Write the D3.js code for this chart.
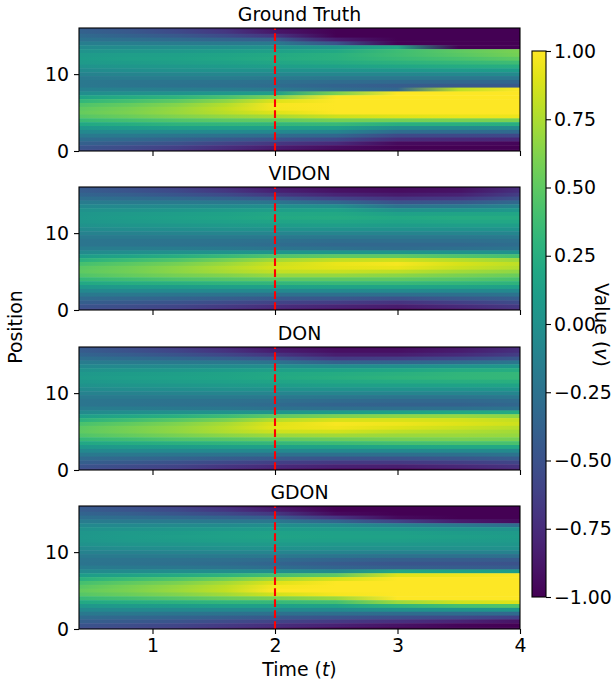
<!DOCTYPE html>
<html>
<head>
<meta charset="utf-8">
<script src="https://cdn.jsdelivr.net/npm/d3@7"></script>
<style>
  html, body { margin: 0; padding: 0; background: #fff; }
  text { font-family: "DejaVu Sans", sans-serif; fill: #000; }
</style>
</head>
<body>
<div id="chart"></div>
<script>
// time of each column in the value tables below
const times = [0.4, 0.8, 1.2, 1.6, 2, 2.5, 3, 3.5, 4];
// position of each value inside a column, top of the panel first
const positions = d3.range(16, -0.5, -0.5);
const titles = ['Ground Truth', 'VIDON', 'DON', 'GDON'];
const xTicks = [1, 2, 3, 4];
const yTicks = [0, 10];
const barTicks = [-1, -0.75, -0.5, -0.25, 0, 0.25, 0.5, 0.75, 1];
const splitTime = 2;

// values, one line per time
const truthValues = [
  [-.42,-.38,-.32,-.25,-.15,-.05,.03,.08,.1,.08,.03,-.05,-.12,-.18,-.2,-.2,-.13,-.02,.16,.32,.44,.5,.53,.47,.35,.2,.06,-.07,-.18,-.29,-.39,-.47,-.52],
  [-.5,-.45,-.38,-.28,-.15,-.04,.05,.11,.13,.1,.05,-.02,-.1,-.17,-.22,-.22,-.14,0,.22,.4,.52,.58,.6,.54,.4,.24,.09,-.05,-.19,-.32,-.44,-.54,-.6],
  [-.6,-.55,-.45,-.32,-.17,-.03,.07,.13,.15,.12,.07,0,-.09,-.17,-.23,-.25,-.16,.03,.3,.5,.63,.68,.69,.62,.46,.29,.12,-.05,-.22,-.37,-.5,-.62,-.7],
  [-.75,-.68,-.55,-.37,-.18,-.02,.1,.17,.18,.15,.09,.01,-.08,-.17,-.25,-.27,-.17,.07,.42,.66,.78,.82,.79,.68,.5,.31,.13,-.06,-.26,-.44,-.6,-.74,-.82],
  [-.95,-.88,-.7,-.42,-.18,0,.13,.21,.22,.18,.11,.02,-.08,-.18,-.27,-.3,-.2,.12,.6,.9,.98,.97,.9,.74,.52,.32,.13,-.07,-.3,-.5,-.68,-.84,-.93],
  [-1,-1,-1,-.85,-.5,.05,.2,.27,.27,.22,.14,.03,-.08,-.2,-.3,-.36,-.3,.6,1,1,1,1,1,.85,.58,.34,.12,-.1,-.34,-.56,-.76,-.93,-1],
  [-1,-1,-1,-1,-1,.2,.37,.38,.35,.28,.18,.05,-.08,-.2,-.32,-.42,-.35,1,1,1,1,1,1,.9,.58,.26,-.03,-.3,-.55,-.75,-.95,-1,-1],
  [-1,-1,-1,-1,-1,-1,.5,.48,.42,.33,.22,.08,-.07,-.2,-.33,-.45,.8,1,1,1,1,1,1,.93,.6,.26,-.04,-.31,-.56,-.77,-.96,-1,-1],
  [-1,-1,-1,-1,-1,-1,.6,.58,.5,.38,.25,.1,-.05,-.2,-.35,-.45,1,1,1,1,1,1,1,.95,.6,.25,-.05,-.32,-.57,-.78,-.97,-1,-1]
];
const vidonValues = [
  [-.45,-.42,-.36,-.28,-.17,-.07,.01,.05,.06,.05,.01,-.05,-.12,-.18,-.22,-.22,-.16,-.05,.1,.27,.4,.48,.5,.45,.33,.2,.06,-.07,-.19,-.3,-.4,-.48,-.55],
  [-.52,-.48,-.4,-.3,-.18,-.06,.03,.08,.1,.08,.04,-.03,-.11,-.18,-.23,-.23,-.16,-.02,.17,.36,.49,.56,.57,.52,.39,.24,.08,-.06,-.2,-.33,-.44,-.53,-.6],
  [-.62,-.56,-.47,-.33,-.18,-.05,.05,.11,.13,.11,.06,-.02,-.1,-.18,-.24,-.25,-.17,0,.25,.45,.58,.65,.65,.58,.44,.27,.1,-.06,-.22,-.36,-.48,-.58,-.66],
  [-.75,-.68,-.55,-.38,-.2,-.04,.08,.15,.17,.14,.08,0,-.09,-.18,-.25,-.27,-.19,.03,.35,.58,.7,.76,.74,.62,.47,.3,.12,-.06,-.24,-.4,-.54,-.66,-.76],
  [-.88,-.82,-.68,-.46,-.22,-.02,.11,.19,.21,.17,.1,.01,-.09,-.19,-.27,-.3,-.22,.05,.45,.72,.84,.87,.82,.68,.5,.32,.14,-.06,-.26,-.44,-.6,-.74,-.85],
  [-.93,-.9,-.8,-.6,-.34,-.03,.14,.2,.22,.18,.11,.02,-.09,-.2,-.29,-.33,-.26,.05,.5,.82,.93,.92,.83,.68,.5,.34,.16,-.06,-.27,-.46,-.64,-.8,-.92],
  [-.95,-.93,-.86,-.7,-.5,-.25,0,.14,.2,.17,.1,.02,-.1,-.2,-.28,-.33,-.3,.05,.5,.85,.97,.93,.8,.65,.5,.34,.17,-.05,-.28,-.5,-.7,-.85,-.95],
  [-.92,-.9,-.82,-.66,-.46,-.2,.03,.17,.22,.19,.11,.02,-.09,-.2,-.28,-.33,-.27,.03,.45,.78,.88,.84,.72,.6,.47,.32,.16,-.06,-.27,-.45,-.62,-.76,-.88],
  [-.75,-.72,-.64,-.5,-.32,-.1,.07,.18,.22,.19,.11,.03,-.08,-.18,-.26,-.29,-.23,.02,.4,.7,.8,.76,.66,.54,.42,.29,.13,-.06,-.24,-.4,-.54,-.66,-.75]
];
const donValues = [
  [-.45,-.42,-.36,-.28,-.17,-.07,.02,.07,.08,.06,.02,-.05,-.12,-.18,-.22,-.22,-.16,-.05,.11,.28,.42,.49,.5,.45,.33,.19,.06,-.07,-.19,-.3,-.4,-.48,-.55],
  [-.54,-.5,-.42,-.31,-.18,-.06,.04,.1,.11,.09,.04,-.03,-.11,-.18,-.23,-.24,-.17,-.02,.19,.38,.51,.58,.58,.52,.39,.23,.08,-.06,-.2,-.33,-.44,-.54,-.62],
  [-.65,-.59,-.49,-.35,-.19,-.05,.06,.12,.14,.11,.06,-.02,-.1,-.18,-.25,-.26,-.19,0,.27,.48,.61,.67,.67,.59,.45,.27,.1,-.06,-.22,-.36,-.5,-.6,-.68],
  [-.78,-.71,-.58,-.4,-.2,-.04,.09,.16,.17,.14,.08,0,-.09,-.18,-.26,-.28,-.21,.03,.37,.6,.74,.78,.76,.65,.48,.3,.12,-.06,-.24,-.41,-.56,-.69,-.79],
  [-.9,-.84,-.7,-.48,-.24,-.03,.12,.2,.21,.17,.1,.01,-.09,-.19,-.28,-.32,-.25,.05,.5,.78,.9,.92,.85,.7,.52,.33,.14,-.06,-.26,-.44,-.62,-.76,-.88],
  [-.96,-.92,-.84,-.66,-.38,-.04,.15,.23,.25,.2,.12,.02,-.09,-.21,-.31,-.36,-.28,.1,.6,.88,.98,.96,.86,.72,.55,.36,.16,-.06,-.27,-.47,-.66,-.82,-.95],
  [-.95,-.92,-.84,-.64,-.36,-.02,.18,.27,.29,.23,.13,.03,-.09,-.22,-.33,-.38,-.28,.15,.65,.88,.95,.9,.8,.7,.58,.4,.18,-.06,-.28,-.48,-.66,-.83,-.96],
  [-.88,-.85,-.76,-.56,-.3,.03,.22,.31,.32,.25,.15,.03,-.09,-.22,-.33,-.38,-.27,.2,.68,.86,.9,.84,.76,.7,.6,.42,.2,-.05,-.27,-.46,-.63,-.78,-.9],
  [-.75,-.72,-.64,-.46,-.2,.06,.24,.33,.33,.26,.16,.04,-.08,-.2,-.3,-.34,-.24,.22,.65,.82,.85,.78,.72,.68,.58,.42,.2,-.05,-.24,-.42,-.58,-.7,-.8]
];
const gdonValues = [
  [-.45,-.42,-.36,-.28,-.17,-.07,.01,.05,.06,.05,.01,-.05,-.12,-.18,-.22,-.23,-.17,-.05,.1,.27,.4,.48,.52,.47,.35,.2,.06,-.07,-.19,-.3,-.4,-.48,-.55],
  [-.52,-.48,-.4,-.3,-.18,-.06,.03,.08,.09,.08,.04,-.03,-.11,-.18,-.24,-.25,-.19,-.04,.16,.36,.5,.58,.6,.54,.4,.24,.08,-.06,-.2,-.33,-.44,-.53,-.6],
  [-.62,-.56,-.47,-.33,-.18,-.05,.05,.1,.11,.1,.05,-.02,-.1,-.18,-.26,-.28,-.21,-.03,.22,.45,.6,.68,.7,.62,.47,.28,.1,-.06,-.22,-.36,-.48,-.58,-.66],
  [-.76,-.69,-.56,-.38,-.2,-.04,.07,.13,.14,.12,.07,0,-.09,-.19,-.28,-.31,-.24,-.03,.3,.57,.73,.8,.82,.72,.54,.32,.12,-.06,-.24,-.4,-.54,-.66,-.76],
  [-.92,-.85,-.68,-.43,-.2,-.02,.09,.15,.16,.13,.08,.01,-.09,-.2,-.31,-.36,-.29,-.02,.4,.72,.9,.97,1,.86,.6,.34,.13,-.06,-.26,-.44,-.6,-.74,-.85],
  [-1,-1,-.95,-.7,-.35,-.04,.08,.14,.15,.13,.07,0,-.1,-.23,-.36,-.43,-.36,-.05,.5,.88,1,1,1,.97,.7,.4,.16,-.06,-.28,-.48,-.66,-.82,-.96],
  [-1,-1,-1,-.95,-.6,-.12,.06,.13,.15,.12,.07,0,-.11,-.26,-.4,-.47,-.4,.2,.9,1,1,1,1,1,1,.7,.3,0,-.3,-.52,-.72,-.9,-1],
  [-1,-1,-1,-1,-.85,-.2,.03,.1,.12,.1,.06,0,-.12,-.27,-.42,-.48,-.42,.15,.95,1,1,1,1,1,1,.85,.4,.03,-.3,-.55,-.8,-.97,-1],
  [-1,-1,-1,-1,-.95,-.3,.02,.08,.1,.08,.05,0,-.12,-.28,-.43,-.5,-.43,.1,1,1,1,1,1,1,1,.9,.45,.05,-.32,-.62,-.9,-1,-1]
];
const panelValues = [truthValues, vidonValues, donValues, gdonValues];

const width = 614;
const height = 679;
const panelTops = [28, 187, 347, 506];
const panelHeight = 123;
const margin = { left: 79, right: 94 };
const fontSize = '18.9px';

const svg = d3.select('#chart')
  .append('svg')
  .attr('width', width)
  .attr('height', height)
  .style('display', 'block');

const defs = svg.append('defs');

// softens the steps between rows, the reference image is resampled
defs.append('filter')
  .attr('id', 'soften')
  .attr('x', 0).attr('width', 1)
  .attr('y', -0.1).attr('height', 1.2)
  .attr('color-interpolation-filters', 'sRGB')
  .append('feGaussianBlur')
  .attr('stdDeviation', '0 0.6');

const x = d3.scaleLinear()
  .domain([0.4, 4])
  .range([margin.left, width - margin.right]);

const color = d3.scaleSequential(d3.interpolateViridis).domain([-1, 1]);

panelValues.forEach((values, p) => {
  const y = d3.scaleLinear()
    .domain([0, 16])
    .range([panelTops[p] + panelHeight, panelTops[p]]);

  // a row is one position, its colour runs through the times
  const rows = d3.transpose(values);

  const grads = defs.selectAll(`.grad-${p}`)
    .data(rows)
    .join('linearGradient')
    .attr('class', `grad-${p}`)
    .attr('id', (d, i) => `grad-${p}-${i}`);

  grads.selectAll('stop')
    .data(d => d)
    .join('stop')
    .attr('offset', (d, i) => (x(times[i]) - x.range()[0]) / (x.range()[1] - x.range()[0]))
    .attr('stop-color', d => color(d));

  defs.append('clipPath')
    .attr('id', `clip-${p}`)
    .append('rect')
    .attr('x', x.range()[0])
    .attr('y', y.range()[1])
    .attr('width', x.range()[1] - x.range()[0])
    .attr('height', panelHeight);

  const g = svg.append('g');

  g.append('g')
    .attr('clip-path', `url(#clip-${p})`)
    .append('g')
    .attr('filter', 'url(#soften)')
    .selectAll('rect')
    .data(positions)
    .join('rect')
    .attr('x', x.range()[0])
    .attr('y', d => y(d + 0.25))
    .attr('width', x.range()[1] - x.range()[0])
    .attr('height', d => y(d - 0.25) - y(d + 0.25) + 0.5)
    .attr('fill', (d, i) => `url(#grad-${p}-${i})`);

  // dashed line where the observed part stops
  g.append('line')
    .attr('x1', x(splitTime))
    .attr('x2', x(splitTime))
    .attr('y1', y(0))
    .attr('y2', y(16))
    .attr('stroke', 'red')
    .attr('stroke-width', 2.1)
    .attr('stroke-dasharray', '7.7,3.3');

  g.append('rect')
    .attr('x', x.range()[0])
    .attr('y', y.range()[1])
    .attr('width', x.range()[1] - x.range()[0])
    .attr('height', panelHeight)
    .attr('fill', 'none')
    .attr('stroke', '#000')
    .attr('stroke-width', 1.1);

  const xAxis = d3.axisBottom(x)
    .tickValues(xTicks)
    .tickSize(5)
    .tickPadding(5)
    .tickFormat(p === 3 ? d3.format('d') : '');

  g.append('g')
    .attr('transform', `translate(0,${y(0)})`)
    .call(xAxis)
    .call(styleAxis);

  const yAxis = d3.axisLeft(y)
    .tickValues(yTicks)
    .tickSize(5)
    .tickPadding(5);

  g.append('g')
    .attr('transform', `translate(${x.range()[0]},0)`)
    .call(yAxis)
    .call(styleAxis);

  g.append('text')
    .attr('x', (x.range()[0] + x.range()[1]) / 2)
    .attr('y', panelTops[p] - 7)
    .attr('text-anchor', 'middle')
    .style('font-size', fontSize)
    .text(titles[p]);
});

function styleAxis(g) {
  g.select('.domain').remove();
  g.selectAll('.tick line').attr('stroke', '#000').attr('stroke-width', 1.1);
  g.selectAll('.tick text').style('font-size', fontSize).attr('fill', '#000');
}

// colour bar
const barLeft = 532;
const barWidth = 14;
const barY = d3.scaleLinear().domain([-1, 1]).range([597, 51]);

const barGrad = defs.append('linearGradient')
  .attr('id', 'bar-grad')
  .attr('x1', 0).attr('x2', 0)
  .attr('y1', 1).attr('y2', 0);

barGrad.selectAll('stop')
  .data(d3.range(0, 1.01, 0.05))
  .join('stop')
  .attr('offset', d => d)
  .attr('stop-color', d => d3.interpolateViridis(d));

svg.append('rect')
  .attr('x', barLeft)
  .attr('y', barY(1))
  .attr('width', barWidth)
  .attr('height', barY(-1) - barY(1))
  .attr('fill', 'url(#bar-grad)')
  .attr('stroke', '#000')
  .attr('stroke-width', 1.1);

svg.append('g')
  .attr('transform', `translate(${barLeft + barWidth},0)`)
  .call(d3.axisRight(barY).tickValues(barTicks).tickFormat(d => d3.format('.2f')(d).replace('-', '\u2212')).tickSize(5).tickPadding(3))
  .call(styleAxis);

// axis labels
svg.append('text')
  .attr('x', x(2.2))
  .attr('y', 676)
  .attr('text-anchor', 'middle')
  .style('font-size', fontSize)
  .call(t => {
    t.append('tspan').text('Time (');
    t.append('tspan').style('font-style', 'italic').text('t');
    t.append('tspan').text(')');
  });

svg.append('text')
  .attr('transform', 'translate(22,327) rotate(-90)')
  .attr('text-anchor', 'middle')
  .style('font-size', fontSize)
  .text('Position');

svg.append('text')
  .attr('transform', 'translate(595,325) rotate(90)')
  .attr('text-anchor', 'middle')
  .style('font-size', fontSize)
  .call(t => {
    t.append('tspan').text('Value (');
    t.append('tspan').style('font-style', 'italic').text('v');
    t.append('tspan').text(')');
  });
</script>
</body>
</html>
